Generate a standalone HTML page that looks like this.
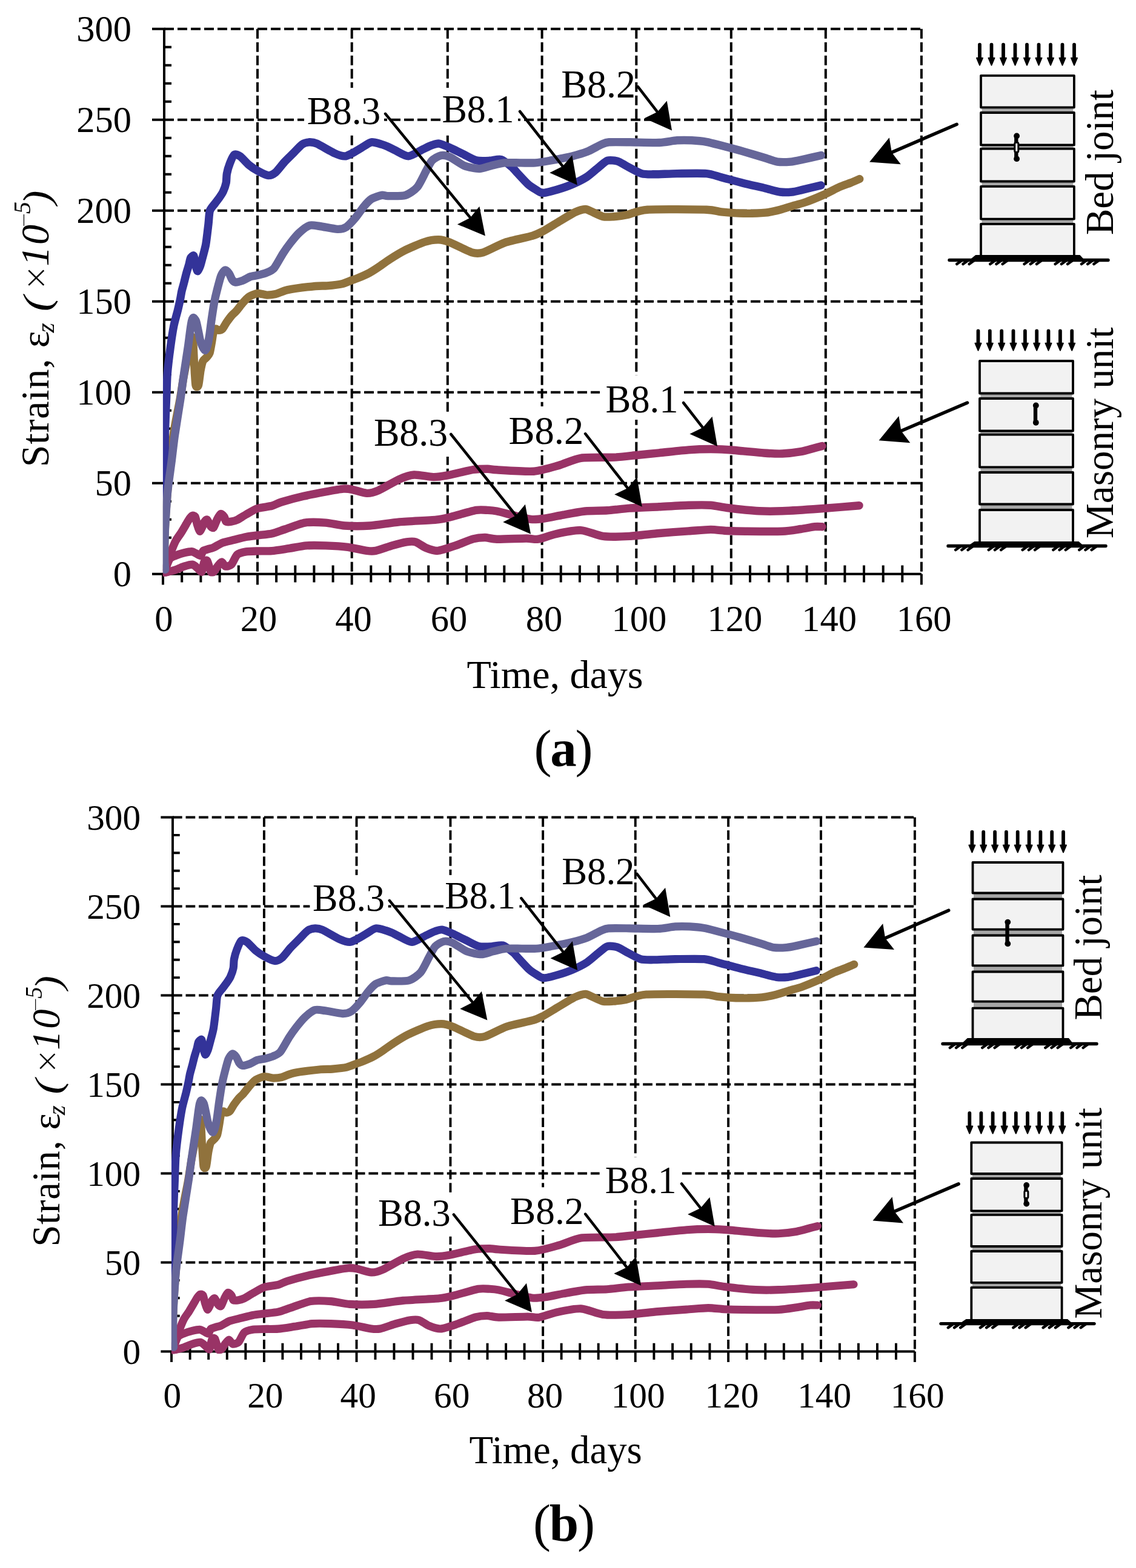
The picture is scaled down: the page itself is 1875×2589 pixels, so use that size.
<!DOCTYPE html>
<html><head><meta charset="utf-8"><title>Strain vs time</title>
<style>html,body{margin:0;padding:0;background:#fff;}svg{display:block;}</style>
</head><body>
<svg width="1875" height="2589" viewBox="0 0 1875 2589" font-family="'Liberation Serif', 'Times New Roman', serif" fill="#000">
<defs><clipPath id="clipA" clipPathUnits="userSpaceOnUse"><rect x="268.9" y="0" width="1300" height="951.5"/></clipPath><clipPath id="clipB" clipPathUnits="userSpaceOnUse"><rect x="268.9" y="0" width="1300" height="951.5"/></clipPath></defs>
<rect width="1875" height="2589" fill="#fff"/>
<g><path d="M271 797.7H1520.9 M271 647.7H1520.9 M271 497.7H1520.9 M271 347.7H1520.9 M271 197.7H1520.9 M271 47.7H1520.9 M425 47.7V947.7 M580.7 47.7V947.7 M738.8 47.7V947.7 M894.6 47.7V947.7 M1050.3 47.7V947.7 M1206.8 47.7V947.7 M1362.8 47.7V947.7 M1520.9 47.7V947.7" stroke="#000" stroke-width="4" stroke-dasharray="16 6" fill="none"/>
<path d="M271 45.7V949.7 M251 947.7H1520.9 M251 947.7H271 M251 797.7H271 M251 647.7H271 M251 497.7H271 M251 347.7H271 M251 197.7H271 M251 47.7H271 M271 917.7H283 M271 887.7H283 M271 857.7H283 M271 827.7H283 M271 767.7H283 M271 737.7H283 M271 707.7H283 M271 677.7H283 M271 617.7H283 M271 587.7H283 M271 557.7H283 M271 527.7H283 M271 467.7H283 M271 437.7H283 M271 407.7H283 M271 377.7H283 M271 317.7H283 M271 287.7H283 M271 257.7H283 M271 227.7H283 M271 167.7H283 M271 137.7H283 M271 107.7H283 M271 77.7H283 M269 947.7V965.5 M425 947.7V965.5 M580.7 947.7V965.5 M738.8 947.7V965.5 M894.6 947.7V965.5 M1050.3 947.7V965.5 M1206.8 947.7V965.5 M1362.8 947.7V965.5 M1520.9 947.7V965.5 M300.2 933.6V961.6 M331.4 933.6V961.6 M362.6 933.6V961.6 M393.8 933.6V961.6 M456.1 933.6V961.6 M487.3 933.6V961.6 M518.4 933.6V961.6 M549.6 933.6V961.6 M612.3 933.6V961.6 M643.9 933.6V961.6 M675.6 933.6V961.6 M707.2 933.6V961.6 M770 933.6V961.6 M801.1 933.6V961.6 M832.3 933.6V961.6 M863.4 933.6V961.6 M925.7 933.6V961.6 M956.9 933.6V961.6 M988 933.6V961.6 M1019.2 933.6V961.6 M1081.6 933.6V961.6 M1112.9 933.6V961.6 M1144.2 933.6V961.6 M1175.5 933.6V961.6 M1238 933.6V961.6 M1269.2 933.6V961.6 M1300.4 933.6V961.6 M1331.6 933.6V961.6 M1394.4 933.6V961.6 M1426 933.6V961.6 M1457.7 933.6V961.6 M1489.3 933.6V961.6" stroke="#000" stroke-width="4" fill="none"/>
<text x="217" y="968.4" text-anchor="end" font-size="60.5">0</text>
<text x="217" y="818.4" text-anchor="end" font-size="60.5">50</text>
<text x="217" y="668.4" text-anchor="end" font-size="60.5">100</text>
<text x="217" y="518.4" text-anchor="end" font-size="60.5">150</text>
<text x="217" y="368.4" text-anchor="end" font-size="60.5">200</text>
<text x="217" y="218.4" text-anchor="end" font-size="60.5">250</text>
<text x="217" y="68.4" text-anchor="end" font-size="60.5">300</text>
<text x="270.3" y="1041.9" text-anchor="middle" font-size="60.5">0</text>
<text x="426.9" y="1041.9" text-anchor="middle" font-size="60.5">20</text>
<text x="583.5" y="1041.9" text-anchor="middle" font-size="60.5">40</text>
<text x="741.1" y="1041.9" text-anchor="middle" font-size="60.5">60</text>
<text x="898.1" y="1041.9" text-anchor="middle" font-size="60.5">80</text>
<text x="1054.8" y="1041.9" text-anchor="middle" font-size="60.5">100</text>
<text x="1212.8" y="1041.9" text-anchor="middle" font-size="60.5">120</text>
<text x="1368.6" y="1041.9" text-anchor="middle" font-size="60.5">140</text>
<text x="1525.2" y="1041.9" text-anchor="middle" font-size="60.5">160</text>
<text x="916" y="1135.6" text-anchor="middle" font-size="66">Time, days</text>
<g transform="translate(80.4,766) rotate(-90)"><text x="-5.2" y="0" font-size="66" letter-spacing="0.8">Strain, &#949;</text><text x="216.5" y="8.5" font-size="42" font-style="italic">z</text><text transform="translate(251.8,1.5) scale(1.2,1)" font-size="63" font-style="italic">(</text><text x="285.9" y="-4" font-size="51" font-family="'DejaVu Sans', sans-serif" font-weight="200">&#215;</text><text x="326.3" y="0" font-size="66" font-style="italic" letter-spacing="2.7">10</text><text x="390" y="-31" font-size="30.4" font-family="'DejaVu Sans', sans-serif" font-weight="200">&#8722;</text><text x="413" y="-30" font-size="40" font-style="italic">5</text><text transform="translate(428.2,1.5) scale(1.1,1)" font-size="63" font-style="italic">)</text></g>
<g clip-path="url(#clipA)">
<path d="M271 946.5C271.6 944.5 274.7 934.1 276 930C277.3 925.9 280.3 916.4 282 912C283.7 907.6 288 896.8 290 893C292 889.2 296.7 883.2 298.7 880C300.7 876.8 305.3 868.9 307 866C308.7 863.1 311.7 857.7 313 856C314.3 854.3 316.4 851.9 317.5 851.5C318.6 851.1 321 851.3 322 853C323 854.7 324.6 863.1 325.5 866C326.4 868.9 328.5 876.4 329.5 877C330.5 877.6 332.6 872.8 333.5 871C334.4 869.2 336 863.6 337 862.1C338 860.6 340.6 857.4 341.9 858.2C343.2 859 346.5 867.5 347.8 869C349.1 870.5 351.3 872.3 352.6 870.9C353.9 869.5 357.1 860 358.5 857.3C359.9 854.6 362.9 849 364.3 848.5C365.7 848 369.1 851.9 370.2 853.4C371.3 854.9 371.7 860.3 373.1 861.2C374.5 862.1 379.6 861.6 381.8 861.2C384 860.8 388.7 859.6 391.6 858.2C394.5 856.8 402.2 851.7 406.2 849.5C410.2 847.3 419.9 841.2 425 839.5C430.1 837.8 444 836.6 448.7 835.3C453.4 834 458 830.9 464.3 829C470.6 827.1 492.1 821.3 500.9 819.3C509.7 817.3 529.5 813.5 537.4 812C545.3 810.5 561.3 807.5 566.6 807.1C571.9 806.7 576.5 807.4 581.2 808.3C585.9 809.2 600.3 814.2 605.6 814.4C610.9 814.6 618.6 812.4 625 809.6C631.4 806.8 652.1 794.4 659.1 791.3C666.1 788.2 676.8 784.4 683.5 784C690.2 783.6 708.7 787.5 715.1 787.6C721.5 787.7 729.1 786.7 737 785.2C744.9 783.7 772.6 776.8 780.8 775.5C789 774.2 800.5 774.3 805.2 774.3C809.9 774.3 810.9 775.3 820 775.8C829.1 776.3 868.6 779.1 880.9 778.2C893.2 777.3 913 771.1 922.3 768.5C931.6 765.9 947.7 757.9 958.8 756.3C969.9 754.7 1003.7 755.7 1014.8 755.1C1025.9 754.5 1042.5 752.4 1051.3 751.5C1060.1 750.6 1077.6 748.8 1087.8 747.8C1098 746.8 1126.3 743.7 1136.5 742.9C1146.7 742.1 1165.4 741.5 1173 741.5C1180.6 741.5 1193.1 742.1 1200 742.5C1206.9 742.9 1223.1 744.5 1230.4 745.2C1237.7 745.9 1253.6 747.5 1260.9 748C1268.2 748.5 1284 749.3 1291.3 749C1298.6 748.7 1315.3 746.7 1321.7 745.6C1328.1 744.5 1340.4 740.8 1344.6 739.7C1348.8 738.6 1355.5 736.9 1357 736.5" stroke="#993366" fill="none" stroke-width="13.4" stroke-linejoin="round" stroke-linecap="round"/>
<path d="M271 946C272 943.3 277.4 926.9 279.6 923.5C281.8 920.1 286.4 918.9 289.3 917.6C292.2 916.3 300.7 913.6 304 912.8C307.3 912 314.3 910.7 316.6 910.8C318.9 910.9 321.6 912.9 323.4 913.7C325.2 914.5 329.8 918.1 331.2 917.6C332.6 917.1 333.7 911.1 335.1 909.8C336.5 908.5 340.8 907.6 342.9 906.9C345 906.2 349.7 905.3 352.6 904C355.5 902.7 363.1 897.7 367.2 896.2C371.3 894.7 382 892.5 386.7 891.3C391.4 890.1 401.6 887.4 406.2 886.5C410.8 885.6 419.9 884.7 425 884C430.1 883.3 443.3 882.2 448.7 881C454.1 879.8 463.4 876.1 470 874C476.6 871.9 495.2 864.4 503.3 863.1C511.4 861.8 529.5 862.5 537.4 863.1C545.3 863.7 560.2 867.4 569 868C577.8 868.6 599.6 868.7 610.4 868C621.2 867.3 645.9 863.1 659.1 861.9C672.3 860.7 709.8 859.2 720 858.2C730.2 857.2 736.4 855.3 744.3 853.4C752.2 851.5 778.4 843.7 785.7 842.4C793 841.1 801.1 842.2 805.2 842.4C809.3 842.6 815.3 843.1 820 844C824.7 844.9 837.6 848.5 844.3 850.1C851 851.7 869.6 856.7 876 857.4C882.4 858.1 891.5 857.1 897.9 856.2C904.3 855.3 921.4 851.6 929.6 850.1C937.8 848.6 957.3 844.9 966.1 844C974.9 843.1 993.8 843.4 1002.6 842.8C1011.4 842.2 1028.9 839.8 1039.1 839.1C1049.3 838.4 1076.1 837.3 1087.8 836.7C1099.5 836.1 1126.3 834.5 1136.5 834.2C1146.7 833.9 1165.4 833.7 1173 834.2C1180.6 834.7 1190.4 837.3 1200 838.5C1209.6 839.7 1242.3 843.2 1253.3 843.8C1264.3 844.4 1279.4 844.3 1291.3 843.8C1303.2 843.3 1337 841.1 1352.2 840C1367.4 838.9 1410.1 835.3 1418 834.7" stroke="#993366" fill="none" stroke-width="13.4" stroke-linejoin="round" stroke-linecap="round"/>
<path d="M271 946C273.2 945.4 285.3 942.3 289.3 941C293.3 939.7 300.6 936.3 304 935.2C307.4 934.1 315 931.9 317.6 932.2C320.2 932.5 324.2 936.6 326 938C327.8 939.4 331.7 945.2 333 944C334.3 942.8 335.9 930.2 337 928C338.1 925.8 340.7 924.1 342 926C343.3 927.9 346.7 941.8 348 944C349.3 946.2 351.6 945.2 353 944C354.4 942.8 358.4 935.9 360 934C361.6 932.1 364.6 927.9 366 928C367.4 928.1 370.1 934.5 372 935C373.9 935.5 379.4 934.5 381.8 932.2C384.2 929.9 388.7 918.3 391.6 915.7C394.5 913.1 402.2 911.5 406.2 910.8C410.2 910.1 419.9 910 425 909.9C430.1 909.8 442.5 910.1 448.7 909.6C454.9 909.1 469.7 906.7 476.5 905.7C483.3 904.7 498.4 901.5 505.7 900.9C513 900.3 529.2 900.6 537.4 900.9C545.6 901.2 565.7 902.3 573.9 903.3C582.1 904.3 600 908.7 605.6 909.4C611.2 910.1 615.2 910.4 620.2 909.4C625.2 908.4 640.8 902.7 646.9 900.9C653 899.1 666.6 895.5 671.3 894.8C676 894.1 682.1 893.6 685.9 894.8C689.7 896 698.5 902.7 702.9 904.5C707.3 906.3 716.6 909.8 722.4 909.4C728.2 909 744.6 903.2 751.6 900.9C758.6 898.6 775 891.5 780.8 889.9C786.6 888.3 795.6 887.5 800.3 887.5C805 887.5 811.8 890 820 890.2C828.2 890.4 860.5 889 868.7 889C876.9 889 882.4 891.1 888.2 890.2C894 889.3 908.9 883.5 917.4 881.7C925.9 879.9 949.5 875.2 958.8 875.6C968.1 876 985.7 884.2 995.3 885.4C1004.9 886.6 1028 886 1039.1 885.4C1050.2 884.8 1076.1 881.5 1087.8 880.5C1099.5 879.5 1126.3 877.6 1136.5 876.9C1146.7 876.2 1165.4 874.4 1173 874.4C1180.6 874.4 1193.1 876.2 1200 876.5C1206.9 876.8 1219.4 877.2 1230.4 877.3C1241.4 877.4 1280.3 877.8 1291.3 877.3C1302.3 876.8 1315.3 874.4 1321.7 873.5C1328.1 872.6 1340.4 870.2 1344.6 869.7C1348.8 869.2 1355.5 869.7 1357 869.7" stroke="#993366" fill="none" stroke-width="13.4" stroke-linejoin="round" stroke-linecap="round"/>
<path d="M271.2 936C271.3 929.3 271.4 894.9 272 880C272.6 865.1 274.8 830.9 276.5 811.7C278.2 792.5 283.4 738.2 285.9 720C288.4 701.8 295 671.5 297 660C299 648.5 301.5 631.2 302.8 624C304.1 616.8 306.3 605.9 307.5 600C308.7 594.1 311.2 580.2 312.5 575C313.8 569.8 317 554 318 557C319 560 319.9 590.5 320.5 600C321.1 609.5 322.2 631.7 323 636C323.8 640.3 326.5 638.9 327.5 636C328.5 633.1 330.1 616.8 331 612C331.9 607.2 333.8 598.6 335 596C336.2 593.4 339.7 591.6 341 590C342.3 588.4 345 586 346 583C347 580 348.8 569 349.5 565C350.2 561 351.2 552.6 352 550C352.8 547.4 354.9 543.6 356 543C357.1 542.4 359.4 545.3 360.8 545.3C362.2 545.3 365.8 544.3 367.4 542.7C369 541.1 372.2 534.6 374 532.1C375.8 529.6 380.1 523.7 382 521.5C383.9 519.3 387.7 516.1 389.9 513.6C392.1 511.1 398 503.3 400.5 500.4C403 497.5 408.1 491.7 411.1 489.8C414.1 487.9 422.1 484.8 425.6 484.5C429.1 484.2 436.7 487 440.2 487.1C443.7 487.2 450.8 486.5 455 485.5C459.2 484.5 467 480.2 474.8 478.6C482.6 477 512.6 473.3 520.4 472.5C528.2 471.7 534.7 472.3 540 471.8C545.3 471.3 559.4 469.8 564.3 468.7C569.2 467.6 577.8 463.7 580.9 462.6C584 461.5 586.6 460.8 590 459.4C593.4 458 605.1 452.9 609.3 450.7C613.5 448.5 621 443.6 625 440.9C629 438.2 638 431.5 643 428.3C648 425.1 660.1 417.5 667 414C673.9 410.5 694.1 401.7 700.9 399.5C707.7 397.3 719 395.7 724 395.8C729 395.9 736 397.8 742.6 400.3C749.2 402.8 772.4 414.8 779 416.8C785.6 418.8 790.8 418.8 797.4 416.8C804 414.8 824.2 403.6 833.9 400.3C843.6 397 871.2 391.6 878.6 389.4C886 387.2 890.6 384.7 895.6 382.1C900.6 379.5 913.6 371.3 920 367.5C926.4 363.7 943.7 353 949.2 350.4C954.7 347.8 963 345.6 966.2 345.5C969.4 345.4 972.5 347.7 976 349.2C979.5 350.7 991.1 356.7 995.5 357.7C999.9 358.7 1007.8 358 1012.5 357.7C1017.2 357.4 1027.9 356.2 1034.6 354.8C1041.3 353.4 1052.9 347.2 1068.7 346.2C1084.5 345.2 1151.5 345.8 1166.1 346.2C1180.7 346.6 1183.1 349.2 1190.4 349.9C1197.7 350.6 1218.1 352.2 1226.9 352.3C1235.7 352.4 1256.2 351.8 1263.5 351.1C1270.8 350.4 1282 347.7 1287.8 346.2C1293.6 344.7 1307 340.4 1312.1 338.9C1317.2 337.4 1324.5 335.6 1330.4 333.5C1336.3 331.4 1354.4 323.9 1361 321C1367.6 318.1 1379.9 311.3 1385 309C1390.1 306.7 1399.5 303.6 1403.5 302C1407.5 300.4 1416.9 296.3 1418.7 295.5" stroke="#90723c" fill="none" stroke-width="13.4" stroke-linejoin="round" stroke-linecap="round"/>
<path d="M271.2 936C271.2 929.3 271.2 896.3 271.3 880C271.4 863.7 271.7 819.2 271.8 800C271.9 780.8 272 736.8 272.3 720C272.6 703.2 274 672.2 274.5 660C275 647.8 275.4 628.7 276.2 618.1C277 607.5 280.2 581.3 281.5 571.8C282.8 562.3 285.3 545.8 286.7 538.7C288.1 531.6 292.1 517.5 293.4 512.3C294.7 507.1 296.5 498.9 297.3 495.1C298.1 491.3 299.2 484 300 480.5C300.8 477 303 469.6 303.9 466C304.8 462.4 306.9 453.6 307.9 450.1C308.9 446.6 311.1 439.8 311.9 436.9C312.7 434 313.6 428.1 314.5 426.3C315.4 424.5 318.8 421.2 319.8 422.3C320.8 423.4 321.8 432.6 322.5 435.6C323.2 438.6 324.9 447 325.8 447.5C326.7 448 329.4 442.2 330.4 439.5C331.4 436.8 333.3 429.3 334.4 425C335.5 420.7 338.5 410.4 339.7 403.8C340.9 397.2 343.2 376.7 344 370C344.8 363.3 345.1 352.1 346.4 348C347.7 343.9 353.1 338.4 355 335.8C356.9 333.2 360.7 328.3 362.3 326C363.9 323.7 367 319.2 368.3 316.3C369.6 313.4 372.5 305.2 373.2 301.7C373.9 298.2 373.7 290.8 374.4 287C375.1 283.2 377.8 273.8 379.3 270C380.8 266.2 384.6 256.9 386.6 255.5C388.6 254.1 393.4 256 396.3 258C399.2 260 407.5 269.6 411 272.5C414.5 275.4 421.7 280.1 425.5 282.2C429.3 284.3 439.1 289.3 442.6 289.6C446.1 289.9 451.6 287.3 454.8 284.7C458 282.1 465.9 271.4 469.4 267.6C472.9 263.8 480.5 256.5 484 253C487.5 249.5 495.4 240.6 498.6 238.4C501.8 236.2 507.9 234.9 510.8 234.8C513.7 234.7 518 235 523 237.2C528 239.4 546.6 250.5 552.1 253C557.6 255.5 565.7 257.9 569.2 257.9C572.7 257.9 578.2 254.6 581.4 253C584.6 251.4 592.2 246.7 596 244.5C599.8 242.3 608.9 235.5 613 234.8C617.1 234.1 626.8 237.5 630 238.4C633.2 239.3 637.3 240.9 640 242.1C642.7 243.3 648.1 246.3 652.2 248.2C656.3 250.1 668.6 258.1 674.1 257.9C679.6 257.7 693.7 248.5 698.4 246.3C703.1 244.1 709.8 240.8 713 239.7C716.2 238.6 721.2 236.6 724.7 237.1C728.2 237.6 737.5 241.6 742.2 243.7C746.9 245.8 758.9 251.8 764.2 254.3C769.5 256.8 780.8 263.5 786.1 264.8C791.4 266.1 803.1 265.5 808 265.3C812.9 265.1 822.6 262.2 827 263.4C831.4 264.6 841.2 272.8 844.5 275.5C847.8 278.2 851 282.6 854.2 286C857.4 289.4 867.8 300.8 871.3 304C874.8 307.2 880.6 310.8 883.5 312.5C886.4 314.2 891.2 318.4 895.6 318.5C900 318.6 914.2 314.7 920 313C925.8 311.3 938.5 307 944.3 304.5C950.1 302 963.4 295.4 968.7 292C974 288.6 984 279.4 988.1 276.2C992.2 273 999 266.4 1002.8 265.2C1006.6 264 1016 265.3 1019.8 266.4C1023.6 267.5 1029.9 272 1034.6 274.4C1039.3 276.8 1053.4 285 1059 286.6C1064.6 288.2 1073.9 287.8 1080.9 287.8C1087.9 287.8 1107.2 286.7 1117.4 286.6C1127.6 286.5 1157.3 285.9 1166.1 286.6C1174.9 287.3 1183.1 290.8 1190.4 292.7C1197.7 294.6 1218.1 300.2 1226.9 302.4C1235.7 304.6 1256.2 309.2 1263.5 311C1270.8 312.8 1282.5 316.3 1287.8 317C1293.1 317.7 1302.9 317.4 1307.3 317C1311.7 316.6 1318.6 314.7 1324.3 313.4C1330 312.1 1351.3 306.9 1355 306" stroke="#333399" fill="none" stroke-width="13.4" stroke-linejoin="round" stroke-linecap="round"/>
<path d="M272.5 940.5C272.4 938 271.6 927.3 271.6 920C271.6 912.7 271.9 889.6 272.2 880C272.5 870.4 274 847.4 274.5 840C275 832.6 275.6 823.5 276 818.7C276.4 813.9 277.1 807 278 800C278.9 793 282.2 769.6 283.4 760C284.6 750.4 286.6 732 288.3 720C290 708 296 671.2 297.7 660C299.4 648.8 301.2 634.3 302.2 627C303.2 619.7 305.4 605.6 306.4 598.8C307.4 592 309.8 577 310.7 570.5C311.6 564 313.3 549.9 314 545C314.7 540.1 315.9 532.5 316.5 530C317.1 527.5 318.2 524.5 319 524.5C319.8 524.5 322.5 527.5 323.5 530C324.5 532.5 326.2 541.4 327 545C327.8 548.6 329.2 556.8 330 560C330.8 563.2 333 569.8 334 572C335 574.2 337.5 578.5 338.5 578.5C339.5 578.5 341.2 574.7 342 572C342.8 569.3 344.4 561.7 345.3 556.4C346.2 551.1 348.1 535 349.1 528.2C350.1 521.4 352.4 505.9 353.5 500C354.6 494.1 356.8 484.6 358.2 479.2C359.6 473.8 363.2 459.4 364.8 455.4C366.4 451.4 369.8 446.6 371.4 446.1C373 445.6 376.6 449.5 378 451.4C379.4 453.3 382 460.2 383.3 462C384.6 463.8 386.5 465.8 388.6 466C390.7 466.2 397.5 464.4 400.5 463.3C403.5 462.2 410.5 457.8 413.7 456.7C416.9 455.6 423.8 454.9 427 454.1C430.2 453.3 437.2 451.5 440.2 450.2C443.2 448.9 449.1 446.8 452.3 443C455.5 439.2 463.8 423.6 467 418.6C470.2 413.6 475.9 405.6 479.1 401.5C482.3 397.4 489.9 388 493.7 384.5C497.5 381 506.7 373.6 510.8 372.3C514.9 371 522.3 372.8 527.8 373.5C533.3 374.2 551.7 378.2 557 378.4C562.3 378.6 568.1 377 571.6 374.8C575.1 372.6 582.7 364.3 586.2 360.2C589.7 356.1 597.6 344.5 600.8 340.7C604 336.9 609.5 330.7 613 328.5C616.5 326.3 626.8 323 630 322.4C633.2 321.8 635.3 323.6 640 323.6C644.7 323.6 663.4 324.2 669.2 322.4C675 320.6 684.6 313.8 688.7 309C692.8 304.2 700.4 287.6 703.3 282.3C706.2 277 710.1 268.3 713 265.2C715.9 262.1 724.1 257.4 727.6 256.7C731.1 256 737.5 257.1 742.2 259.1C746.9 261.1 760.7 271.4 766.6 273.7C772.5 276 785.7 278.6 791 278.6C796.3 278.6 805.4 274.9 810.4 273.7C815.4 272.5 826.5 269.5 832.3 268.9C838.1 268.3 853 268.9 859.1 268.9C865.2 268.9 877.7 269.3 883.5 268.9C889.3 268.5 900.5 266.5 907.8 265.2C915.1 263.9 937 259.7 944.3 257.9C951.6 256.1 962.9 252.9 968.7 250.6C974.5 248.3 988.6 240.3 993 238.4C997.4 236.5 999.6 235.2 1005.2 234.8C1010.8 234.4 1030 234.7 1040 234.8C1050 234.9 1078.9 235.9 1088.2 235.5C1097.5 235.1 1111 232.2 1117.4 231.8C1123.8 231.4 1135.9 231.5 1141.7 231.8C1147.5 232.1 1160.3 233.3 1166.1 234.3C1171.9 235.3 1183.1 238.4 1190.4 240.3C1197.7 242.2 1218.1 247.6 1226.9 250.1C1235.7 252.6 1256.8 259 1263.5 261C1270.2 263 1278 266.4 1283 267.1C1288 267.8 1299.8 267.5 1304.8 267.1C1309.8 266.7 1318.2 264.8 1324.3 263.5C1330.4 262.2 1351.7 257.3 1355.4 256.5" stroke="#666699" fill="none" stroke-width="13.4" stroke-linejoin="round" stroke-linecap="round"/>
</g>
<rect x="502" y="145" width="132" height="76" fill="#fff"/>
<rect x="727" y="145" width="128" height="76" fill="#fff"/>
<rect x="925" y="105" width="123" height="67" fill="#fff"/>
<rect x="612" y="680" width="133" height="74" fill="#fff"/>
<rect x="836" y="671" width="130" height="72" fill="#fff"/>
<rect x="990" y="620" width="138" height="73" fill="#fff"/>
<text x="506.7" y="205.4" font-size="65" textLength="121.6" lengthAdjust="spacingAndGlyphs">B8.3</text>
<text x="729.5" y="201.5" font-size="65" textLength="118.9" lengthAdjust="spacingAndGlyphs">B8.1</text>
<text x="926.3" y="160.6" font-size="65" textLength="122.7" lengthAdjust="spacingAndGlyphs">B8.2</text>
<text x="616.9" y="736" font-size="65" textLength="122.1" lengthAdjust="spacingAndGlyphs">B8.3</text>
<text x="839.4" y="732.5" font-size="65" textLength="123.8" lengthAdjust="spacingAndGlyphs">B8.2</text>
<text x="999.4" y="680.9" font-size="65" textLength="120.1" lengthAdjust="spacingAndGlyphs">B8.1</text>
<line x1="636.1" y1="187.9" x2="776.2" y2="359.4" stroke="#000" stroke-width="4.6" stroke-linecap="round"/><polygon points="800.9,389.6 754.9,370.4 776.2,359.4 791.3,340.7" fill="#000"/>
<line x1="858.1" y1="184" x2="928.8" y2="274.6" stroke="#000" stroke-width="4.6" stroke-linecap="round"/><polygon points="952.8,305.4 907.2,285.2 928.8,274.6 944.3,256.3" fill="#000"/>
<line x1="1052.9" y1="143.1" x2="1085.1" y2="184.8" stroke="#000" stroke-width="4.6" stroke-linecap="round"/><polygon points="1109,215.6 1063.5,195.2 1085.1,184.8 1100.7,166.4" fill="#000"/>
<line x1="744.3" y1="717" x2="851.6" y2="851.2" stroke="#000" stroke-width="4.6" stroke-linecap="round"/><polygon points="876,881.7 830.2,862 851.6,851.2 866.9,832.7" fill="#000"/>
<line x1="966.1" y1="716.2" x2="1035.9" y2="805.9" stroke="#000" stroke-width="4.6" stroke-linecap="round"/><polygon points="1059.8,836.7 1014.2,816.4 1035.9,805.9 1051.3,787.5" fill="#000"/>
<line x1="1128" y1="665" x2="1160" y2="706.1" stroke="#000" stroke-width="4.6" stroke-linecap="round"/><polygon points="1184,736.9 1138.4,716.6 1160,706.1 1175.5,687.7" fill="#000"/></g>
<g transform="matrix(0.9800 0 0 0.9800 19.42 1302.75)"><path d="M271 797.7H1520.9 M271 647.7H1520.9 M271 497.7H1520.9 M271 347.7H1520.9 M271 197.7H1520.9 M271 47.7H1520.9 M425 47.7V947.7 M580.7 47.7V947.7 M738.8 47.7V947.7 M894.6 47.7V947.7 M1050.3 47.7V947.7 M1206.8 47.7V947.7 M1362.8 47.7V947.7 M1520.9 47.7V947.7" stroke="#000" stroke-width="4" stroke-dasharray="16 6" fill="none"/>
<path d="M271 45.7V949.7 M251 947.7H1520.9 M251 947.7H271 M251 797.7H271 M251 647.7H271 M251 497.7H271 M251 347.7H271 M251 197.7H271 M251 47.7H271 M271 917.7H283 M271 887.7H283 M271 857.7H283 M271 827.7H283 M271 767.7H283 M271 737.7H283 M271 707.7H283 M271 677.7H283 M271 617.7H283 M271 587.7H283 M271 557.7H283 M271 527.7H283 M271 467.7H283 M271 437.7H283 M271 407.7H283 M271 377.7H283 M271 317.7H283 M271 287.7H283 M271 257.7H283 M271 227.7H283 M271 167.7H283 M271 137.7H283 M271 107.7H283 M271 77.7H283 M269 947.7V965.5 M425 947.7V965.5 M580.7 947.7V965.5 M738.8 947.7V965.5 M894.6 947.7V965.5 M1050.3 947.7V965.5 M1206.8 947.7V965.5 M1362.8 947.7V965.5 M1520.9 947.7V965.5 M300.2 933.6V961.6 M331.4 933.6V961.6 M362.6 933.6V961.6 M393.8 933.6V961.6 M456.1 933.6V961.6 M487.3 933.6V961.6 M518.4 933.6V961.6 M549.6 933.6V961.6 M612.3 933.6V961.6 M643.9 933.6V961.6 M675.6 933.6V961.6 M707.2 933.6V961.6 M770 933.6V961.6 M801.1 933.6V961.6 M832.3 933.6V961.6 M863.4 933.6V961.6 M925.7 933.6V961.6 M956.9 933.6V961.6 M988 933.6V961.6 M1019.2 933.6V961.6 M1081.6 933.6V961.6 M1112.9 933.6V961.6 M1144.2 933.6V961.6 M1175.5 933.6V961.6 M1238 933.6V961.6 M1269.2 933.6V961.6 M1300.4 933.6V961.6 M1331.6 933.6V961.6 M1394.4 933.6V961.6 M1426 933.6V961.6 M1457.7 933.6V961.6 M1489.3 933.6V961.6" stroke="#000" stroke-width="4" fill="none"/>
<text x="217" y="968.4" text-anchor="end" font-size="60.5">0</text>
<text x="217" y="818.4" text-anchor="end" font-size="60.5">50</text>
<text x="217" y="668.4" text-anchor="end" font-size="60.5">100</text>
<text x="217" y="518.4" text-anchor="end" font-size="60.5">150</text>
<text x="217" y="368.4" text-anchor="end" font-size="60.5">200</text>
<text x="217" y="218.4" text-anchor="end" font-size="60.5">250</text>
<text x="217" y="68.4" text-anchor="end" font-size="60.5">300</text>
<text x="270.3" y="1041.9" text-anchor="middle" font-size="60.5">0</text>
<text x="426.9" y="1041.9" text-anchor="middle" font-size="60.5">20</text>
<text x="583.5" y="1041.9" text-anchor="middle" font-size="60.5">40</text>
<text x="741.1" y="1041.9" text-anchor="middle" font-size="60.5">60</text>
<text x="898.1" y="1041.9" text-anchor="middle" font-size="60.5">80</text>
<text x="1054.8" y="1041.9" text-anchor="middle" font-size="60.5">100</text>
<text x="1212.8" y="1041.9" text-anchor="middle" font-size="60.5">120</text>
<text x="1368.6" y="1041.9" text-anchor="middle" font-size="60.5">140</text>
<text x="1525.2" y="1041.9" text-anchor="middle" font-size="60.5">160</text>
<text x="916" y="1135.6" text-anchor="middle" font-size="66">Time, days</text>
<g transform="translate(80.4,766) rotate(-90)"><text x="-5.2" y="0" font-size="66" letter-spacing="0.8">Strain, &#949;</text><text x="216.5" y="8.5" font-size="42" font-style="italic">z</text><text transform="translate(251.8,1.5) scale(1.2,1)" font-size="63" font-style="italic">(</text><text x="285.9" y="-4" font-size="51" font-family="'DejaVu Sans', sans-serif" font-weight="200">&#215;</text><text x="326.3" y="0" font-size="66" font-style="italic" letter-spacing="2.7">10</text><text x="390" y="-31" font-size="30.4" font-family="'DejaVu Sans', sans-serif" font-weight="200">&#8722;</text><text x="413" y="-30" font-size="40" font-style="italic">5</text><text transform="translate(428.2,1.5) scale(1.1,1)" font-size="63" font-style="italic">)</text></g>
<g clip-path="url(#clipB)">
<path d="M271 946.5C271.6 944.5 274.7 934.1 276 930C277.3 925.9 280.3 916.4 282 912C283.7 907.6 288 896.8 290 893C292 889.2 296.7 883.2 298.7 880C300.7 876.8 305.3 868.9 307 866C308.7 863.1 311.7 857.7 313 856C314.3 854.3 316.4 851.9 317.5 851.5C318.6 851.1 321 851.3 322 853C323 854.7 324.6 863.1 325.5 866C326.4 868.9 328.5 876.4 329.5 877C330.5 877.6 332.6 872.8 333.5 871C334.4 869.2 336 863.6 337 862.1C338 860.6 340.6 857.4 341.9 858.2C343.2 859 346.5 867.5 347.8 869C349.1 870.5 351.3 872.3 352.6 870.9C353.9 869.5 357.1 860 358.5 857.3C359.9 854.6 362.9 849 364.3 848.5C365.7 848 369.1 851.9 370.2 853.4C371.3 854.9 371.7 860.3 373.1 861.2C374.5 862.1 379.6 861.6 381.8 861.2C384 860.8 388.7 859.6 391.6 858.2C394.5 856.8 402.2 851.7 406.2 849.5C410.2 847.3 419.9 841.2 425 839.5C430.1 837.8 444 836.6 448.7 835.3C453.4 834 458 830.9 464.3 829C470.6 827.1 492.1 821.3 500.9 819.3C509.7 817.3 529.5 813.5 537.4 812C545.3 810.5 561.3 807.5 566.6 807.1C571.9 806.7 576.5 807.4 581.2 808.3C585.9 809.2 600.3 814.2 605.6 814.4C610.9 814.6 618.6 812.4 625 809.6C631.4 806.8 652.1 794.4 659.1 791.3C666.1 788.2 676.8 784.4 683.5 784C690.2 783.6 708.7 787.5 715.1 787.6C721.5 787.7 729.1 786.7 737 785.2C744.9 783.7 772.6 776.8 780.8 775.5C789 774.2 800.5 774.3 805.2 774.3C809.9 774.3 810.9 775.3 820 775.8C829.1 776.3 868.6 779.1 880.9 778.2C893.2 777.3 913 771.1 922.3 768.5C931.6 765.9 947.7 757.9 958.8 756.3C969.9 754.7 1003.7 755.7 1014.8 755.1C1025.9 754.5 1042.5 752.4 1051.3 751.5C1060.1 750.6 1077.6 748.8 1087.8 747.8C1098 746.8 1126.3 743.7 1136.5 742.9C1146.7 742.1 1165.4 741.5 1173 741.5C1180.6 741.5 1193.1 742.1 1200 742.5C1206.9 742.9 1223.1 744.5 1230.4 745.2C1237.7 745.9 1253.6 747.5 1260.9 748C1268.2 748.5 1284 749.3 1291.3 749C1298.6 748.7 1315.3 746.7 1321.7 745.6C1328.1 744.5 1340.4 740.8 1344.6 739.7C1348.8 738.6 1355.5 736.9 1357 736.5" stroke="#993366" fill="none" stroke-width="13.4" stroke-linejoin="round" stroke-linecap="round"/>
<path d="M271 946C272 943.3 277.4 926.9 279.6 923.5C281.8 920.1 286.4 918.9 289.3 917.6C292.2 916.3 300.7 913.6 304 912.8C307.3 912 314.3 910.7 316.6 910.8C318.9 910.9 321.6 912.9 323.4 913.7C325.2 914.5 329.8 918.1 331.2 917.6C332.6 917.1 333.7 911.1 335.1 909.8C336.5 908.5 340.8 907.6 342.9 906.9C345 906.2 349.7 905.3 352.6 904C355.5 902.7 363.1 897.7 367.2 896.2C371.3 894.7 382 892.5 386.7 891.3C391.4 890.1 401.6 887.4 406.2 886.5C410.8 885.6 419.9 884.7 425 884C430.1 883.3 443.3 882.2 448.7 881C454.1 879.8 463.4 876.1 470 874C476.6 871.9 495.2 864.4 503.3 863.1C511.4 861.8 529.5 862.5 537.4 863.1C545.3 863.7 560.2 867.4 569 868C577.8 868.6 599.6 868.7 610.4 868C621.2 867.3 645.9 863.1 659.1 861.9C672.3 860.7 709.8 859.2 720 858.2C730.2 857.2 736.4 855.3 744.3 853.4C752.2 851.5 778.4 843.7 785.7 842.4C793 841.1 801.1 842.2 805.2 842.4C809.3 842.6 815.3 843.1 820 844C824.7 844.9 837.6 848.5 844.3 850.1C851 851.7 869.6 856.7 876 857.4C882.4 858.1 891.5 857.1 897.9 856.2C904.3 855.3 921.4 851.6 929.6 850.1C937.8 848.6 957.3 844.9 966.1 844C974.9 843.1 993.8 843.4 1002.6 842.8C1011.4 842.2 1028.9 839.8 1039.1 839.1C1049.3 838.4 1076.1 837.3 1087.8 836.7C1099.5 836.1 1126.3 834.5 1136.5 834.2C1146.7 833.9 1165.4 833.7 1173 834.2C1180.6 834.7 1190.4 837.3 1200 838.5C1209.6 839.7 1242.3 843.2 1253.3 843.8C1264.3 844.4 1279.4 844.3 1291.3 843.8C1303.2 843.3 1337 841.1 1352.2 840C1367.4 838.9 1410.1 835.3 1418 834.7" stroke="#993366" fill="none" stroke-width="13.4" stroke-linejoin="round" stroke-linecap="round"/>
<path d="M271 946C273.2 945.4 285.3 942.3 289.3 941C293.3 939.7 300.6 936.3 304 935.2C307.4 934.1 315 931.9 317.6 932.2C320.2 932.5 324.2 936.6 326 938C327.8 939.4 331.7 945.2 333 944C334.3 942.8 335.9 930.2 337 928C338.1 925.8 340.7 924.1 342 926C343.3 927.9 346.7 941.8 348 944C349.3 946.2 351.6 945.2 353 944C354.4 942.8 358.4 935.9 360 934C361.6 932.1 364.6 927.9 366 928C367.4 928.1 370.1 934.5 372 935C373.9 935.5 379.4 934.5 381.8 932.2C384.2 929.9 388.7 918.3 391.6 915.7C394.5 913.1 402.2 911.5 406.2 910.8C410.2 910.1 419.9 910 425 909.9C430.1 909.8 442.5 910.1 448.7 909.6C454.9 909.1 469.7 906.7 476.5 905.7C483.3 904.7 498.4 901.5 505.7 900.9C513 900.3 529.2 900.6 537.4 900.9C545.6 901.2 565.7 902.3 573.9 903.3C582.1 904.3 600 908.7 605.6 909.4C611.2 910.1 615.2 910.4 620.2 909.4C625.2 908.4 640.8 902.7 646.9 900.9C653 899.1 666.6 895.5 671.3 894.8C676 894.1 682.1 893.6 685.9 894.8C689.7 896 698.5 902.7 702.9 904.5C707.3 906.3 716.6 909.8 722.4 909.4C728.2 909 744.6 903.2 751.6 900.9C758.6 898.6 775 891.5 780.8 889.9C786.6 888.3 795.6 887.5 800.3 887.5C805 887.5 811.8 890 820 890.2C828.2 890.4 860.5 889 868.7 889C876.9 889 882.4 891.1 888.2 890.2C894 889.3 908.9 883.5 917.4 881.7C925.9 879.9 949.5 875.2 958.8 875.6C968.1 876 985.7 884.2 995.3 885.4C1004.9 886.6 1028 886 1039.1 885.4C1050.2 884.8 1076.1 881.5 1087.8 880.5C1099.5 879.5 1126.3 877.6 1136.5 876.9C1146.7 876.2 1165.4 874.4 1173 874.4C1180.6 874.4 1193.1 876.2 1200 876.5C1206.9 876.8 1219.4 877.2 1230.4 877.3C1241.4 877.4 1280.3 877.8 1291.3 877.3C1302.3 876.8 1315.3 874.4 1321.7 873.5C1328.1 872.6 1340.4 870.2 1344.6 869.7C1348.8 869.2 1355.5 869.7 1357 869.7" stroke="#993366" fill="none" stroke-width="13.4" stroke-linejoin="round" stroke-linecap="round"/>
<path d="M271.2 936C271.3 929.3 271.4 894.9 272 880C272.6 865.1 274.8 830.9 276.5 811.7C278.2 792.5 283.4 738.2 285.9 720C288.4 701.8 295 671.5 297 660C299 648.5 301.5 631.2 302.8 624C304.1 616.8 306.3 605.9 307.5 600C308.7 594.1 311.2 580.2 312.5 575C313.8 569.8 317 554 318 557C319 560 319.9 590.5 320.5 600C321.1 609.5 322.2 631.7 323 636C323.8 640.3 326.5 638.9 327.5 636C328.5 633.1 330.1 616.8 331 612C331.9 607.2 333.8 598.6 335 596C336.2 593.4 339.7 591.6 341 590C342.3 588.4 345 586 346 583C347 580 348.8 569 349.5 565C350.2 561 351.2 552.6 352 550C352.8 547.4 354.9 543.6 356 543C357.1 542.4 359.4 545.3 360.8 545.3C362.2 545.3 365.8 544.3 367.4 542.7C369 541.1 372.2 534.6 374 532.1C375.8 529.6 380.1 523.7 382 521.5C383.9 519.3 387.7 516.1 389.9 513.6C392.1 511.1 398 503.3 400.5 500.4C403 497.5 408.1 491.7 411.1 489.8C414.1 487.9 422.1 484.8 425.6 484.5C429.1 484.2 436.7 487 440.2 487.1C443.7 487.2 450.8 486.5 455 485.5C459.2 484.5 467 480.2 474.8 478.6C482.6 477 512.6 473.3 520.4 472.5C528.2 471.7 534.7 472.3 540 471.8C545.3 471.3 559.4 469.8 564.3 468.7C569.2 467.6 577.8 463.7 580.9 462.6C584 461.5 586.6 460.8 590 459.4C593.4 458 605.1 452.9 609.3 450.7C613.5 448.5 621 443.6 625 440.9C629 438.2 638 431.5 643 428.3C648 425.1 660.1 417.5 667 414C673.9 410.5 694.1 401.7 700.9 399.5C707.7 397.3 719 395.7 724 395.8C729 395.9 736 397.8 742.6 400.3C749.2 402.8 772.4 414.8 779 416.8C785.6 418.8 790.8 418.8 797.4 416.8C804 414.8 824.2 403.6 833.9 400.3C843.6 397 871.2 391.6 878.6 389.4C886 387.2 890.6 384.7 895.6 382.1C900.6 379.5 913.6 371.3 920 367.5C926.4 363.7 943.7 353 949.2 350.4C954.7 347.8 963 345.6 966.2 345.5C969.4 345.4 972.5 347.7 976 349.2C979.5 350.7 991.1 356.7 995.5 357.7C999.9 358.7 1007.8 358 1012.5 357.7C1017.2 357.4 1027.9 356.2 1034.6 354.8C1041.3 353.4 1052.9 347.2 1068.7 346.2C1084.5 345.2 1151.5 345.8 1166.1 346.2C1180.7 346.6 1183.1 349.2 1190.4 349.9C1197.7 350.6 1218.1 352.2 1226.9 352.3C1235.7 352.4 1256.2 351.8 1263.5 351.1C1270.8 350.4 1282 347.7 1287.8 346.2C1293.6 344.7 1307 340.4 1312.1 338.9C1317.2 337.4 1324.5 335.6 1330.4 333.5C1336.3 331.4 1354.4 323.9 1361 321C1367.6 318.1 1379.9 311.3 1385 309C1390.1 306.7 1399.5 303.6 1403.5 302C1407.5 300.4 1416.9 296.3 1418.7 295.5" stroke="#90723c" fill="none" stroke-width="13.4" stroke-linejoin="round" stroke-linecap="round"/>
<path d="M271.2 936C271.2 929.3 271.2 896.3 271.3 880C271.4 863.7 271.7 819.2 271.8 800C271.9 780.8 272 736.8 272.3 720C272.6 703.2 274 672.2 274.5 660C275 647.8 275.4 628.7 276.2 618.1C277 607.5 280.2 581.3 281.5 571.8C282.8 562.3 285.3 545.8 286.7 538.7C288.1 531.6 292.1 517.5 293.4 512.3C294.7 507.1 296.5 498.9 297.3 495.1C298.1 491.3 299.2 484 300 480.5C300.8 477 303 469.6 303.9 466C304.8 462.4 306.9 453.6 307.9 450.1C308.9 446.6 311.1 439.8 311.9 436.9C312.7 434 313.6 428.1 314.5 426.3C315.4 424.5 318.8 421.2 319.8 422.3C320.8 423.4 321.8 432.6 322.5 435.6C323.2 438.6 324.9 447 325.8 447.5C326.7 448 329.4 442.2 330.4 439.5C331.4 436.8 333.3 429.3 334.4 425C335.5 420.7 338.5 410.4 339.7 403.8C340.9 397.2 343.2 376.7 344 370C344.8 363.3 345.1 352.1 346.4 348C347.7 343.9 353.1 338.4 355 335.8C356.9 333.2 360.7 328.3 362.3 326C363.9 323.7 367 319.2 368.3 316.3C369.6 313.4 372.5 305.2 373.2 301.7C373.9 298.2 373.7 290.8 374.4 287C375.1 283.2 377.8 273.8 379.3 270C380.8 266.2 384.6 256.9 386.6 255.5C388.6 254.1 393.4 256 396.3 258C399.2 260 407.5 269.6 411 272.5C414.5 275.4 421.7 280.1 425.5 282.2C429.3 284.3 439.1 289.3 442.6 289.6C446.1 289.9 451.6 287.3 454.8 284.7C458 282.1 465.9 271.4 469.4 267.6C472.9 263.8 480.5 256.5 484 253C487.5 249.5 495.4 240.6 498.6 238.4C501.8 236.2 507.9 234.9 510.8 234.8C513.7 234.7 518 235 523 237.2C528 239.4 546.6 250.5 552.1 253C557.6 255.5 565.7 257.9 569.2 257.9C572.7 257.9 578.2 254.6 581.4 253C584.6 251.4 592.2 246.7 596 244.5C599.8 242.3 608.9 235.5 613 234.8C617.1 234.1 626.8 237.5 630 238.4C633.2 239.3 637.3 240.9 640 242.1C642.7 243.3 648.1 246.3 652.2 248.2C656.3 250.1 668.6 258.1 674.1 257.9C679.6 257.7 693.7 248.5 698.4 246.3C703.1 244.1 709.8 240.8 713 239.7C716.2 238.6 721.2 236.6 724.7 237.1C728.2 237.6 737.5 241.6 742.2 243.7C746.9 245.8 758.9 251.8 764.2 254.3C769.5 256.8 780.8 263.5 786.1 264.8C791.4 266.1 803.1 265.5 808 265.3C812.9 265.1 822.6 262.2 827 263.4C831.4 264.6 841.2 272.8 844.5 275.5C847.8 278.2 851 282.6 854.2 286C857.4 289.4 867.8 300.8 871.3 304C874.8 307.2 880.6 310.8 883.5 312.5C886.4 314.2 891.2 318.4 895.6 318.5C900 318.6 914.2 314.7 920 313C925.8 311.3 938.5 307 944.3 304.5C950.1 302 963.4 295.4 968.7 292C974 288.6 984 279.4 988.1 276.2C992.2 273 999 266.4 1002.8 265.2C1006.6 264 1016 265.3 1019.8 266.4C1023.6 267.5 1029.9 272 1034.6 274.4C1039.3 276.8 1053.4 285 1059 286.6C1064.6 288.2 1073.9 287.8 1080.9 287.8C1087.9 287.8 1107.2 286.7 1117.4 286.6C1127.6 286.5 1157.3 285.9 1166.1 286.6C1174.9 287.3 1183.1 290.8 1190.4 292.7C1197.7 294.6 1218.1 300.2 1226.9 302.4C1235.7 304.6 1256.2 309.2 1263.5 311C1270.8 312.8 1282.5 316.3 1287.8 317C1293.1 317.7 1302.9 317.4 1307.3 317C1311.7 316.6 1318.6 314.7 1324.3 313.4C1330 312.1 1351.3 306.9 1355 306" stroke="#333399" fill="none" stroke-width="13.4" stroke-linejoin="round" stroke-linecap="round"/>
<path d="M272.5 940.5C272.4 938 271.6 927.3 271.6 920C271.6 912.7 271.9 889.6 272.2 880C272.5 870.4 274 847.4 274.5 840C275 832.6 275.6 823.5 276 818.7C276.4 813.9 277.1 807 278 800C278.9 793 282.2 769.6 283.4 760C284.6 750.4 286.6 732 288.3 720C290 708 296 671.2 297.7 660C299.4 648.8 301.2 634.3 302.2 627C303.2 619.7 305.4 605.6 306.4 598.8C307.4 592 309.8 577 310.7 570.5C311.6 564 313.3 549.9 314 545C314.7 540.1 315.9 532.5 316.5 530C317.1 527.5 318.2 524.5 319 524.5C319.8 524.5 322.5 527.5 323.5 530C324.5 532.5 326.2 541.4 327 545C327.8 548.6 329.2 556.8 330 560C330.8 563.2 333 569.8 334 572C335 574.2 337.5 578.5 338.5 578.5C339.5 578.5 341.2 574.7 342 572C342.8 569.3 344.4 561.7 345.3 556.4C346.2 551.1 348.1 535 349.1 528.2C350.1 521.4 352.4 505.9 353.5 500C354.6 494.1 356.8 484.6 358.2 479.2C359.6 473.8 363.2 459.4 364.8 455.4C366.4 451.4 369.8 446.6 371.4 446.1C373 445.6 376.6 449.5 378 451.4C379.4 453.3 382 460.2 383.3 462C384.6 463.8 386.5 465.8 388.6 466C390.7 466.2 397.5 464.4 400.5 463.3C403.5 462.2 410.5 457.8 413.7 456.7C416.9 455.6 423.8 454.9 427 454.1C430.2 453.3 437.2 451.5 440.2 450.2C443.2 448.9 449.1 446.8 452.3 443C455.5 439.2 463.8 423.6 467 418.6C470.2 413.6 475.9 405.6 479.1 401.5C482.3 397.4 489.9 388 493.7 384.5C497.5 381 506.7 373.6 510.8 372.3C514.9 371 522.3 372.8 527.8 373.5C533.3 374.2 551.7 378.2 557 378.4C562.3 378.6 568.1 377 571.6 374.8C575.1 372.6 582.7 364.3 586.2 360.2C589.7 356.1 597.6 344.5 600.8 340.7C604 336.9 609.5 330.7 613 328.5C616.5 326.3 626.8 323 630 322.4C633.2 321.8 635.3 323.6 640 323.6C644.7 323.6 663.4 324.2 669.2 322.4C675 320.6 684.6 313.8 688.7 309C692.8 304.2 700.4 287.6 703.3 282.3C706.2 277 710.1 268.3 713 265.2C715.9 262.1 724.1 257.4 727.6 256.7C731.1 256 737.5 257.1 742.2 259.1C746.9 261.1 760.7 271.4 766.6 273.7C772.5 276 785.7 278.6 791 278.6C796.3 278.6 805.4 274.9 810.4 273.7C815.4 272.5 826.5 269.5 832.3 268.9C838.1 268.3 853 268.9 859.1 268.9C865.2 268.9 877.7 269.3 883.5 268.9C889.3 268.5 900.5 266.5 907.8 265.2C915.1 263.9 937 259.7 944.3 257.9C951.6 256.1 962.9 252.9 968.7 250.6C974.5 248.3 988.6 240.3 993 238.4C997.4 236.5 999.6 235.2 1005.2 234.8C1010.8 234.4 1030 234.7 1040 234.8C1050 234.9 1078.9 235.9 1088.2 235.5C1097.5 235.1 1111 232.2 1117.4 231.8C1123.8 231.4 1135.9 231.5 1141.7 231.8C1147.5 232.1 1160.3 233.3 1166.1 234.3C1171.9 235.3 1183.1 238.4 1190.4 240.3C1197.7 242.2 1218.1 247.6 1226.9 250.1C1235.7 252.6 1256.8 259 1263.5 261C1270.2 263 1278 266.4 1283 267.1C1288 267.8 1299.8 267.5 1304.8 267.1C1309.8 266.7 1318.2 264.8 1324.3 263.5C1330.4 262.2 1351.7 257.3 1355.4 256.5" stroke="#666699" fill="none" stroke-width="13.4" stroke-linejoin="round" stroke-linecap="round"/>
</g>
<rect x="502" y="145" width="132" height="76" fill="#fff"/>
<rect x="727" y="145" width="128" height="76" fill="#fff"/>
<rect x="925" y="105" width="123" height="67" fill="#fff"/>
<rect x="612" y="680" width="133" height="74" fill="#fff"/>
<rect x="836" y="671" width="130" height="72" fill="#fff"/>
<rect x="990" y="620" width="138" height="73" fill="#fff"/>
<text x="506.7" y="205.4" font-size="65" textLength="121.6" lengthAdjust="spacingAndGlyphs">B8.3</text>
<text x="729.5" y="201.5" font-size="65" textLength="118.9" lengthAdjust="spacingAndGlyphs">B8.1</text>
<text x="926.3" y="160.6" font-size="65" textLength="122.7" lengthAdjust="spacingAndGlyphs">B8.2</text>
<text x="616.9" y="736" font-size="65" textLength="122.1" lengthAdjust="spacingAndGlyphs">B8.3</text>
<text x="839.4" y="732.5" font-size="65" textLength="123.8" lengthAdjust="spacingAndGlyphs">B8.2</text>
<text x="999.4" y="680.9" font-size="65" textLength="120.1" lengthAdjust="spacingAndGlyphs">B8.1</text>
<line x1="636.1" y1="187.9" x2="776.2" y2="359.4" stroke="#000" stroke-width="4.6" stroke-linecap="round"/><polygon points="800.9,389.6 754.9,370.4 776.2,359.4 791.3,340.7" fill="#000"/>
<line x1="858.1" y1="184" x2="928.8" y2="274.6" stroke="#000" stroke-width="4.6" stroke-linecap="round"/><polygon points="952.8,305.4 907.2,285.2 928.8,274.6 944.3,256.3" fill="#000"/>
<line x1="1052.9" y1="143.1" x2="1085.1" y2="184.8" stroke="#000" stroke-width="4.6" stroke-linecap="round"/><polygon points="1109,215.6 1063.5,195.2 1085.1,184.8 1100.7,166.4" fill="#000"/>
<line x1="744.3" y1="717" x2="851.6" y2="851.2" stroke="#000" stroke-width="4.6" stroke-linecap="round"/><polygon points="876,881.7 830.2,862 851.6,851.2 866.9,832.7" fill="#000"/>
<line x1="966.1" y1="716.2" x2="1035.9" y2="805.9" stroke="#000" stroke-width="4.6" stroke-linecap="round"/><polygon points="1059.8,836.7 1014.2,816.4 1035.9,805.9 1051.3,787.5" fill="#000"/>
<line x1="1128" y1="665" x2="1160" y2="706.1" stroke="#000" stroke-width="4.6" stroke-linecap="round"/><polygon points="1184,736.9 1138.4,716.6 1160,706.1 1175.5,687.7" fill="#000"/></g>
<rect x="1620.5" y="124.8" width="150.9" height="298.2" fill="#a6a6a6"/>
<rect x="1619" y="124.8" width="153.9" height="52.5" fill="#f2f2f2" stroke="#000" stroke-width="3.8" stroke-linejoin="round"/>
<rect x="1619" y="186" width="153.9" height="53.4" fill="#f2f2f2" stroke="#000" stroke-width="3.8" stroke-linejoin="round"/>
<rect x="1619" y="245.7" width="153.9" height="53.8" fill="#f2f2f2" stroke="#000" stroke-width="3.8" stroke-linejoin="round"/>
<rect x="1619" y="307.9" width="153.9" height="53.7" fill="#f2f2f2" stroke="#000" stroke-width="3.8" stroke-linejoin="round"/>
<rect x="1619" y="369.8" width="153.9" height="53.2" fill="#f2f2f2" stroke="#000" stroke-width="3.8" stroke-linejoin="round"/>
<polygon points="1610.3,421 1782.4,421 1787.9,427 1603,427" fill="#000"/>
<line x1="1567" y1="429.5" x2="1829" y2="429.5" stroke="#000" stroke-width="5.4" stroke-linecap="round"/>
<path d="M1579.3 436L1588.3 429.5 M1589.5 436L1598.5 429.5 M1599.7 436L1608.7 429.5 M1634.3 436L1643.3 429.5 M1644.5 436L1653.5 429.5 M1654.7 436L1663.7 429.5 M1690.6 436L1699.6 429.5 M1700.8 436L1709.8 429.5 M1711 436L1720 429.5 M1741.7 436L1750.7 429.5 M1751.9 436L1760.9 429.5 M1762.1 436L1771.1 429.5 M1785 436L1794 429.5 M1795.2 436L1804.2 429.5 M1805.4 436L1814.4 429.5" stroke="#000" stroke-width="4.6" stroke-linecap="round" fill="none"/>
<path d="M1617 73.6V96.7 M1636.5 73.6V96.7 M1656 73.6V96.7 M1675.5 73.6V96.7 M1695 73.6V96.7 M1714.5 73.6V96.7 M1734 73.6V96.7 M1753.5 73.6V96.7 M1773 73.6V96.7" stroke="#000" stroke-width="5.8" stroke-linecap="round" fill="none"/>
<polygon points="1612,95.7 1622,95.7 1617,107.7" fill="#000" stroke="#000" stroke-width="2" stroke-linejoin="round"/>
<polygon points="1631.5,95.7 1641.5,95.7 1636.5,107.7" fill="#000" stroke="#000" stroke-width="2" stroke-linejoin="round"/>
<polygon points="1651,95.7 1661,95.7 1656,107.7" fill="#000" stroke="#000" stroke-width="2" stroke-linejoin="round"/>
<polygon points="1670.5,95.7 1680.5,95.7 1675.5,107.7" fill="#000" stroke="#000" stroke-width="2" stroke-linejoin="round"/>
<polygon points="1690,95.7 1700,95.7 1695,107.7" fill="#000" stroke="#000" stroke-width="2" stroke-linejoin="round"/>
<polygon points="1709.5,95.7 1719.5,95.7 1714.5,107.7" fill="#000" stroke="#000" stroke-width="2" stroke-linejoin="round"/>
<polygon points="1729,95.7 1739,95.7 1734,107.7" fill="#000" stroke="#000" stroke-width="2" stroke-linejoin="round"/>
<polygon points="1748.5,95.7 1758.5,95.7 1753.5,107.7" fill="#000" stroke="#000" stroke-width="2" stroke-linejoin="round"/>
<polygon points="1768,95.7 1778,95.7 1773,107.7" fill="#000" stroke="#000" stroke-width="2" stroke-linejoin="round"/>
<line x1="1677.3" y1="224.5" x2="1677.3" y2="262.2" stroke="#000" stroke-width="6.3" stroke-linecap="round"/>
<circle cx="1678.1" cy="224.5" r="4.9" fill="#000"/><circle cx="1678.1" cy="262.2" r="4.9" fill="#000"/>
<rect x="1674.8" y="235.3" width="6" height="16" rx="2" fill="#fff" stroke="#000" stroke-width="3"/>
<text transform="translate(1836.5,388) rotate(-90)" font-size="65">Bed joint</text>
<line x1="1579.2" y1="205.3" x2="1471.8" y2="251.6" stroke="#000" stroke-width="5.5" stroke-linecap="round"/><polygon points="1435.1,267.5 1467.8,227.2 1471.8,251.6 1486.8,271.3" fill="#000"/>
<rect x="1618.5" y="596" width="151" height="300" fill="#a6a6a6"/>
<rect x="1617" y="596" width="154" height="53.5" fill="#f2f2f2" stroke="#000" stroke-width="3.8" stroke-linejoin="round"/>
<rect x="1617" y="658" width="154" height="53.5" fill="#f2f2f2" stroke="#000" stroke-width="3.8" stroke-linejoin="round"/>
<rect x="1617" y="717.7" width="154" height="53.6" fill="#f2f2f2" stroke="#000" stroke-width="3.8" stroke-linejoin="round"/>
<rect x="1617" y="780" width="154" height="52.5" fill="#f2f2f2" stroke="#000" stroke-width="3.8" stroke-linejoin="round"/>
<rect x="1617" y="842" width="154" height="54" fill="#f2f2f2" stroke="#000" stroke-width="3.8" stroke-linejoin="round"/>
<polygon points="1608.3,894 1780.5,894 1786,899 1601,899" fill="#000"/>
<line x1="1565" y1="901.5" x2="1825" y2="901.5" stroke="#000" stroke-width="5.4" stroke-linecap="round"/>
<path d="M1577.2 908L1586.2 901.5 M1587.4 908L1596.4 901.5 M1597.6 908L1606.6 901.5 M1631.8 908L1640.8 901.5 M1642 908L1651 901.5 M1652.2 908L1661.2 901.5 M1687.7 908L1696.7 901.5 M1697.9 908L1706.9 901.5 M1708.1 908L1717.1 901.5 M1738.4 908L1747.4 901.5 M1748.6 908L1757.6 901.5 M1758.8 908L1767.8 901.5 M1781.3 908L1790.3 901.5 M1791.5 908L1800.5 901.5 M1801.7 908L1810.7 901.5" stroke="#000" stroke-width="4.6" stroke-linecap="round" fill="none"/>
<path d="M1614.5 546.5V567.7 M1633.8 546.5V567.7 M1653.2 546.5V567.7 M1672.5 546.5V567.7 M1691.9 546.5V567.7 M1711.2 546.5V567.7 M1730.5 546.5V567.7 M1749.9 546.5V567.7 M1769.2 546.5V567.7" stroke="#000" stroke-width="5.8" stroke-linecap="round" fill="none"/>
<polygon points="1609.5,566.7 1619.5,566.7 1614.5,578.7" fill="#000" stroke="#000" stroke-width="2" stroke-linejoin="round"/>
<polygon points="1628.8,566.7 1638.8,566.7 1633.8,578.7" fill="#000" stroke="#000" stroke-width="2" stroke-linejoin="round"/>
<polygon points="1648.2,566.7 1658.2,566.7 1653.2,578.7" fill="#000" stroke="#000" stroke-width="2" stroke-linejoin="round"/>
<polygon points="1667.5,566.7 1677.5,566.7 1672.5,578.7" fill="#000" stroke="#000" stroke-width="2" stroke-linejoin="round"/>
<polygon points="1686.9,566.7 1696.9,566.7 1691.9,578.7" fill="#000" stroke="#000" stroke-width="2" stroke-linejoin="round"/>
<polygon points="1706.2,566.7 1716.2,566.7 1711.2,578.7" fill="#000" stroke="#000" stroke-width="2" stroke-linejoin="round"/>
<polygon points="1725.5,566.7 1735.5,566.7 1730.5,578.7" fill="#000" stroke="#000" stroke-width="2" stroke-linejoin="round"/>
<polygon points="1744.9,566.7 1754.9,566.7 1749.9,578.7" fill="#000" stroke="#000" stroke-width="2" stroke-linejoin="round"/>
<polygon points="1764.2,566.7 1774.2,566.7 1769.2,578.7" fill="#000" stroke="#000" stroke-width="2" stroke-linejoin="round"/>
<line x1="1709" y1="669.5" x2="1709" y2="697.8" stroke="#000" stroke-width="6.3" stroke-linecap="round"/>
<circle cx="1709.8" cy="669.5" r="4.9" fill="#000"/><circle cx="1709.8" cy="697.8" r="4.9" fill="#000"/>
<text transform="translate(1836.5,889) rotate(-90)" font-size="65">Masonry unit</text>
<line x1="1596.6" y1="665" x2="1487.4" y2="711.5" stroke="#000" stroke-width="5.5" stroke-linecap="round"/><polygon points="1450.6,727.2 1483.5,687.1 1487.4,711.5 1502.3,731.3" fill="#000"/>
<rect x="1607" y="1424" width="146" height="292" fill="#a6a6a6"/>
<rect x="1605.5" y="1424" width="149" height="50.5" fill="#f2f2f2" stroke="#000" stroke-width="3.8" stroke-linejoin="round"/>
<rect x="1605.5" y="1484.5" width="149" height="50.1" fill="#f2f2f2" stroke="#000" stroke-width="3.8" stroke-linejoin="round"/>
<rect x="1605.5" y="1544.5" width="149" height="49.9" fill="#f2f2f2" stroke="#000" stroke-width="3.8" stroke-linejoin="round"/>
<rect x="1605.5" y="1604.5" width="149" height="49.2" fill="#f2f2f2" stroke="#000" stroke-width="3.8" stroke-linejoin="round"/>
<rect x="1605.5" y="1664.6" width="149" height="51.4" fill="#f2f2f2" stroke="#000" stroke-width="3.8" stroke-linejoin="round"/>
<polygon points="1596.8,1714 1764,1714 1769.5,1721 1589.5,1721" fill="#000"/>
<line x1="1556" y1="1723.5" x2="1810" y2="1723.5" stroke="#000" stroke-width="5.4" stroke-linecap="round"/>
<path d="M1567.9 1730L1576.9 1723.5 M1578.1 1730L1587.1 1723.5 M1588.3 1730L1597.3 1723.5 M1621.3 1730L1630.3 1723.5 M1631.5 1730L1640.5 1723.5 M1641.7 1730L1650.7 1723.5 M1675.9 1730L1684.9 1723.5 M1686.1 1730L1695.1 1723.5 M1696.3 1730L1705.3 1723.5 M1725.4 1730L1734.4 1723.5 M1735.6 1730L1744.6 1723.5 M1745.8 1730L1754.8 1723.5 M1767.3 1730L1776.3 1723.5 M1777.5 1730L1786.5 1723.5 M1787.7 1730L1796.7 1723.5" stroke="#000" stroke-width="4.6" stroke-linecap="round" fill="none"/>
<path d="M1604.4 1373.7V1396.4 M1623.2 1373.7V1396.4 M1642.1 1373.7V1396.4 M1660.9 1373.7V1396.4 M1679.7 1373.7V1396.4 M1698.6 1373.7V1396.4 M1717.4 1373.7V1396.4 M1736.2 1373.7V1396.4 M1755 1373.7V1396.4" stroke="#000" stroke-width="5.8" stroke-linecap="round" fill="none"/>
<polygon points="1599.4,1395.4 1609.4,1395.4 1604.4,1407.4" fill="#000" stroke="#000" stroke-width="2" stroke-linejoin="round"/>
<polygon points="1618.2,1395.4 1628.2,1395.4 1623.2,1407.4" fill="#000" stroke="#000" stroke-width="2" stroke-linejoin="round"/>
<polygon points="1637.1,1395.4 1647.1,1395.4 1642.1,1407.4" fill="#000" stroke="#000" stroke-width="2" stroke-linejoin="round"/>
<polygon points="1655.9,1395.4 1665.9,1395.4 1660.9,1407.4" fill="#000" stroke="#000" stroke-width="2" stroke-linejoin="round"/>
<polygon points="1674.7,1395.4 1684.7,1395.4 1679.7,1407.4" fill="#000" stroke="#000" stroke-width="2" stroke-linejoin="round"/>
<polygon points="1693.6,1395.4 1703.6,1395.4 1698.6,1407.4" fill="#000" stroke="#000" stroke-width="2" stroke-linejoin="round"/>
<polygon points="1712.4,1395.4 1722.4,1395.4 1717.4,1407.4" fill="#000" stroke="#000" stroke-width="2" stroke-linejoin="round"/>
<polygon points="1731.2,1395.4 1741.2,1395.4 1736.2,1407.4" fill="#000" stroke="#000" stroke-width="2" stroke-linejoin="round"/>
<polygon points="1750,1395.4 1760,1395.4 1755,1407.4" fill="#000" stroke="#000" stroke-width="2" stroke-linejoin="round"/>
<line x1="1662.5" y1="1522.6" x2="1662.5" y2="1558.2" stroke="#000" stroke-width="6.3" stroke-linecap="round"/>
<circle cx="1663.3" cy="1522.6" r="4.9" fill="#000"/><circle cx="1663.3" cy="1558.2" r="4.9" fill="#000"/>
<text transform="translate(1818.3,1684.5) rotate(-90)" font-size="65">Bed joint</text>
<line x1="1565.7" y1="1503.2" x2="1461.1" y2="1548.9" stroke="#000" stroke-width="5.5" stroke-linecap="round"/><polygon points="1425.4,1564.5 1457.2,1524.9 1461.1,1548.9 1476,1568" fill="#000"/>
<rect x="1604.8" y="1886.5" width="146.3" height="293.5" fill="#a6a6a6"/>
<rect x="1603.3" y="1886.5" width="149.3" height="51.5" fill="#f2f2f2" stroke="#000" stroke-width="3.8" stroke-linejoin="round"/>
<rect x="1603.3" y="1946" width="149.3" height="53.3" fill="#f2f2f2" stroke="#000" stroke-width="3.8" stroke-linejoin="round"/>
<rect x="1603.3" y="2005.8" width="149.3" height="52.2" fill="#f2f2f2" stroke="#000" stroke-width="3.8" stroke-linejoin="round"/>
<rect x="1603.3" y="2066" width="149.3" height="51.8" fill="#f2f2f2" stroke="#000" stroke-width="3.8" stroke-linejoin="round"/>
<rect x="1603.3" y="2125.8" width="149.3" height="54.2" fill="#f2f2f2" stroke="#000" stroke-width="3.8" stroke-linejoin="round"/>
<polygon points="1594.6,2178 1762.1,2178 1767.6,2183.1 1587.3,2183.1" fill="#000"/>
<line x1="1553" y1="2185.6" x2="1806" y2="2185.6" stroke="#000" stroke-width="5.4" stroke-linecap="round"/>
<path d="M1564.9 2192.1L1573.9 2185.6 M1575.1 2192.1L1584.1 2185.6 M1585.3 2192.1L1594.3 2185.6 M1618 2192.1L1627 2185.6 M1628.2 2192.1L1637.2 2185.6 M1638.4 2192.1L1647.4 2185.6 M1672.4 2192.1L1681.4 2185.6 M1682.6 2192.1L1691.6 2185.6 M1692.8 2192.1L1701.8 2185.6 M1721.7 2192.1L1730.7 2185.6 M1731.9 2192.1L1740.9 2185.6 M1742.1 2192.1L1751.1 2185.6 M1763.5 2192.1L1772.5 2185.6 M1773.7 2192.1L1782.7 2185.6 M1783.9 2192.1L1792.9 2185.6" stroke="#000" stroke-width="4.6" stroke-linecap="round" fill="none"/>
<path d="M1600.3 1837.8V1860.5 M1619.4 1837.8V1860.5 M1638.6 1837.8V1860.5 M1657.7 1837.8V1860.5 M1676.8 1837.8V1860.5 M1696 1837.8V1860.5 M1715.1 1837.8V1860.5 M1734.2 1837.8V1860.5 M1753.3 1837.8V1860.5" stroke="#000" stroke-width="5.8" stroke-linecap="round" fill="none"/>
<polygon points="1595.3,1859.5 1605.3,1859.5 1600.3,1871.5" fill="#000" stroke="#000" stroke-width="2" stroke-linejoin="round"/>
<polygon points="1614.4,1859.5 1624.4,1859.5 1619.4,1871.5" fill="#000" stroke="#000" stroke-width="2" stroke-linejoin="round"/>
<polygon points="1633.6,1859.5 1643.6,1859.5 1638.6,1871.5" fill="#000" stroke="#000" stroke-width="2" stroke-linejoin="round"/>
<polygon points="1652.7,1859.5 1662.7,1859.5 1657.7,1871.5" fill="#000" stroke="#000" stroke-width="2" stroke-linejoin="round"/>
<polygon points="1671.8,1859.5 1681.8,1859.5 1676.8,1871.5" fill="#000" stroke="#000" stroke-width="2" stroke-linejoin="round"/>
<polygon points="1691,1859.5 1701,1859.5 1696,1871.5" fill="#000" stroke="#000" stroke-width="2" stroke-linejoin="round"/>
<polygon points="1710.1,1859.5 1720.1,1859.5 1715.1,1871.5" fill="#000" stroke="#000" stroke-width="2" stroke-linejoin="round"/>
<polygon points="1729.2,1859.5 1739.2,1859.5 1734.2,1871.5" fill="#000" stroke="#000" stroke-width="2" stroke-linejoin="round"/>
<polygon points="1748.3,1859.5 1758.3,1859.5 1753.3,1871.5" fill="#000" stroke="#000" stroke-width="2" stroke-linejoin="round"/>
<line x1="1693.4" y1="1957" x2="1693.4" y2="1987.6" stroke="#000" stroke-width="6.3" stroke-linecap="round"/>
<circle cx="1694.2" cy="1957" r="4.9" fill="#000"/><circle cx="1694.2" cy="1987.6" r="4.9" fill="#000"/>
<rect x="1690.9" y="1966.3" width="6" height="12" rx="2" fill="#fff" stroke="#000" stroke-width="3"/>
<text transform="translate(1818.3,2177.5) rotate(-90)" font-size="65">Masonry unit</text>
<line x1="1582.1" y1="1954.9" x2="1476.3" y2="2000.2" stroke="#000" stroke-width="5.5" stroke-linecap="round"/><polygon points="1440.5,2015.6 1472.6,1976.3 1476.3,2000.2 1491.1,2019.5" fill="#000"/>
<text x="930" y="1265" text-anchor="middle" font-size="87">(<tspan font-weight="bold" dx="-2.2">a</tspan><tspan dx="-2.2">)</tspan></text>
<text x="931" y="2544" text-anchor="middle" font-size="87">(<tspan font-weight="bold" dx="-2.2">b</tspan><tspan dx="-2.2">)</tspan></text>
</svg>
</body></html>
